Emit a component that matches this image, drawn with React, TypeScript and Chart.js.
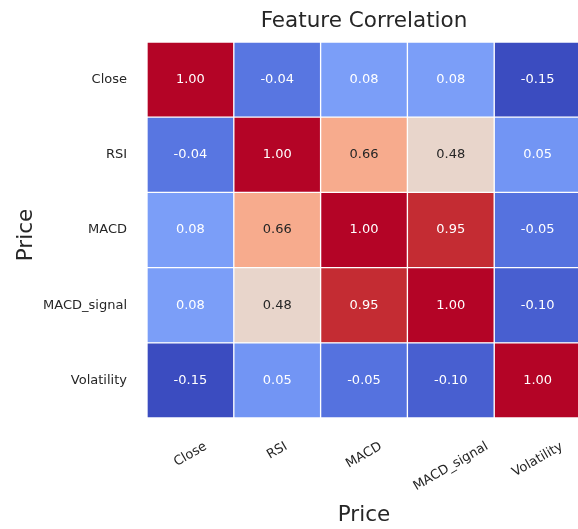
import React, { useEffect, useRef } from "react";
import { Chart, registerables } from "chart.js";

Chart.register(...registerables);

// Feature names (rows top-to-bottom, columns left-to-right)
const features = ["Close", "RSI", "MACD", "MACD_signal", "Volatility"];

// Correlation rows
const closeRow = [1.0, -0.04, 0.08, 0.08, -0.15];
const rsiRow = [-0.04, 1.0, 0.66, 0.48, 0.05];
const macdRow = [0.08, 0.66, 1.0, 0.95, -0.05];
const macdSignalRow = [0.08, 0.48, 0.95, 1.0, -0.1];
const volatilityRow = [-0.15, 0.05, -0.05, -0.1, 1.0];

const chartTitle = "Feature Correlation";
const xAxisTitle = "Price";
const yAxisTitle = "Price";

const matrix = [closeRow, rsiRow, macdRow, macdSignalRow, volatilityRow];

// coolwarm colormap control points (t, r, g, b in 0..1)
const COOLWARM: number[][] = [
  [0.0, 0.2298, 0.2987, 0.7537],
  [0.0625, 0.3039, 0.4065, 0.845],
  [0.125, 0.383, 0.5094, 0.9174],
  [0.1875, 0.4667, 0.6046, 0.9682],
  [0.25, 0.553, 0.6889, 0.9954],
  [0.3125, 0.6392, 0.7596, 0.9982],
  [0.375, 0.7222, 0.814, 0.9766],
  [0.4375, 0.7987, 0.8498, 0.9317],
  [0.5, 0.8654, 0.8654, 0.8654],
  [0.5625, 0.9241, 0.8274, 0.7745],
  [0.625, 0.9589, 0.7698, 0.678],
  [0.6875, 0.97, 0.6943, 0.5794],
  [0.75, 0.958, 0.6028, 0.4818],
  [0.8125, 0.9239, 0.4973, 0.388],
  [0.875, 0.8692, 0.3783, 0.3003],
  [0.9375, 0.7956, 0.2413, 0.2205],
  [1.0, 0.7057, 0.0156, 0.1502],
];

const allValues = matrix.flat();
const vmin = Math.min(...allValues);
const vmax = Math.max(...allValues);

function coolwarm(v: number): number[] {
  const t = Math.max(0, Math.min(1, (v - vmin) / (vmax - vmin)));
  for (let i = 0; i < COOLWARM.length - 1; i++) {
    const a = COOLWARM[i];
    const b = COOLWARM[i + 1];
    if (t >= a[0] && t <= b[0]) {
      const f = (t - a[0]) / (b[0] - a[0]);
      return [1, 2, 3].map((k) => (a[k] + (b[k] - a[k]) * f) * 255);
    }
  }
  const last = COOLWARM[COOLWARM.length - 1];
  return [last[1] * 255, last[2] * 255, last[3] * 255];
}

function rgbString(c: number[]): string {
  return `rgb(${Math.round(c[0])},${Math.round(c[1])},${Math.round(c[2])})`;
}

function luminance(c: number[]): number {
  const lin = c.map((x) => {
    const s = x / 255;
    return s <= 0.03928 ? s / 12.92 : Math.pow((s + 0.055) / 1.055, 2.4);
  });
  return 0.2126 * lin[0] + 0.7152 * lin[1] + 0.0722 * lin[2];
}

const FONT = "'DejaVu Sans', sans-serif";
const TEXT_DARK = "#262626";

const heatmapText = {
  id: "heatmapText",
  afterDatasetsDraw(chart: any) {
    const { ctx, scales } = chart;
    const xs = scales.x;
    const ys = scales.y;
    ctx.save();
    ctx.font = `13px ${FONT}`;
    ctx.textAlign = "center";
    ctx.textBaseline = "middle";
    matrix.forEach((row, r) => {
      row.forEach((v, c) => {
        const col = coolwarm(v);
        ctx.fillStyle = luminance(col) > 0.408 ? TEXT_DARK : "#ffffff";
        ctx.fillText(v.toFixed(2), xs.getPixelForValue(c + 0.5), ys.getPixelForValue(r));
      });
    });
    ctx.restore();
  },
  afterDraw(chart: any) {
    const { ctx, scales, chartArea } = chart;
    const xs = scales.x;
    ctx.save();
    ctx.fillStyle = TEXT_DARK;

    // rotated column labels, centred under each column
    ctx.font = `13px ${FONT}`;
    const ang = (30 * Math.PI) / 180;
    const labelTop = chartArea.bottom + 22;
    const h = 13;
    features.forEach((name, c) => {
      const w = ctx.measureText(name).width;
      const bboxH = w * Math.sin(ang) + h * Math.cos(ang);
      ctx.save();
      ctx.translate(xs.getPixelForValue(c + 0.5), labelTop + bboxH / 2);
      ctx.rotate(-ang);
      ctx.textAlign = "center";
      ctx.textBaseline = "middle";
      ctx.fillText(name, 0, 0);
      ctx.restore();
    });

    const cx = (chartArea.left + chartArea.right) / 2;
    const cy = (chartArea.top + chartArea.bottom) / 2;
    ctx.font = `21.5px ${FONT}`;
    ctx.textAlign = "center";
    ctx.textBaseline = "alphabetic";
    ctx.fillText(chartTitle, cx, 27);
    ctx.fillText(xAxisTitle, cx, 521);

    ctx.save();
    ctx.translate(31.5, cy + 5);
    ctx.rotate(-Math.PI / 2);
    ctx.fillText(yAxisTitle, 0, 0);
    ctx.restore();

    ctx.restore();
  },
};

export default function App() {
  const canvasRef = useRef<HTMLCanvasElement | null>(null);

  useEffect(() => {
    const canvas = canvasRef.current;
    if (!canvas) return;

    // one dataset per column, each bar spans [c, c+1] on the x scale
    const datasets = features.map((name, c) => ({
      label: name,
      data: matrix.map(() => [c, c + 1]),
      backgroundColor: matrix.map((row) => rgbString(coolwarm(row[c]))),
      borderColor: "#ffffff",
      borderWidth: 1,
      borderSkipped: false as const,
      barPercentage: 1,
      categoryPercentage: 1,
    }));

    const chart = new Chart(canvas, {
      type: "bar",
      data: { labels: features, datasets: datasets as any },
      plugins: [heatmapText],
      options: {
        indexAxis: "y",
        responsive: false,
        animation: false,
        events: [],
        layout: { padding: { top: 42, bottom: 111, left: 0, right: 3 } },
        plugins: {
          legend: { display: false },
          tooltip: { enabled: false },
          title: { display: false },
        },
        scales: {
          x: {
            type: "linear",
            min: 0,
            max: 5,
            stacked: false,
            display: false,
          },
          y: {
            type: "category",
            stacked: true,
            offset: true,
            grid: { display: false, drawTicks: false },
            border: { display: false },
            ticks: {
              color: TEXT_DARK,
              font: { family: FONT, size: 13 },
              padding: 20,
            },
            afterFit: (scale: any) => {
              scale.width = 147;
            },
          },
        },
      },
    });

    return () => chart.destroy();
  }, []);

  return (
    <div
      style={{
        position: "fixed",
        left: 0,
        top: 0,
        width: 578,
        height: 529,
        overflow: "hidden",
        background: "#ffffff",
      }}
    >
      <canvas ref={canvasRef} width={584} height={529} style={{ display: "block" }} />
    </div>
  );
}
